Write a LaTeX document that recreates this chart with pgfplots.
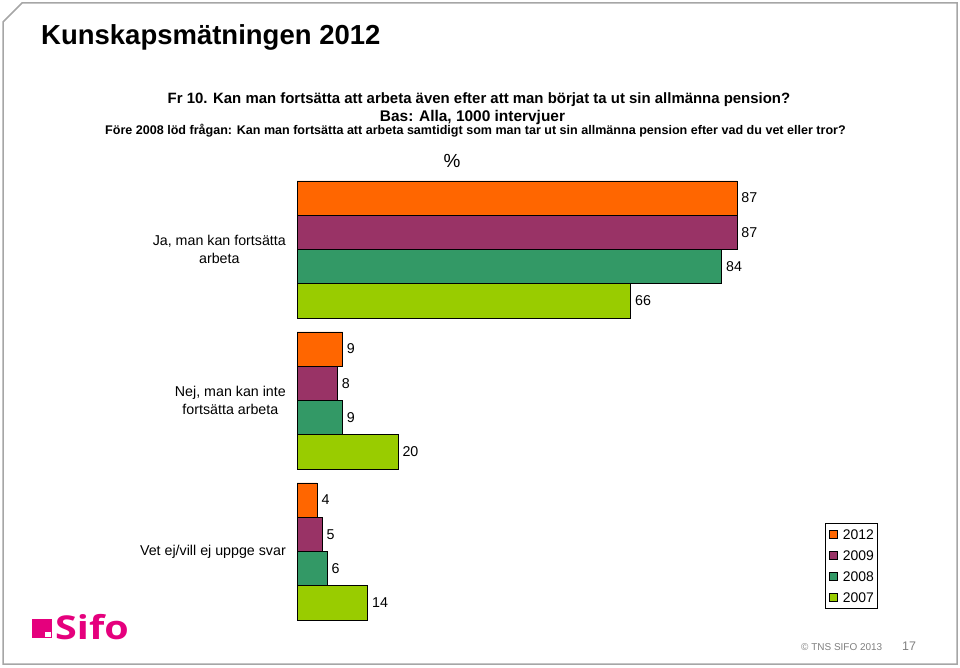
\documentclass[border=0pt]{standalone}
\usepackage{pgfplots}
\pgfplotsset{compat=1.18}
\usepackage{fontspec}
\setmainfont{Liberation Sans}
\newfontfamily\logofont{Open Sans}
\definecolor{c2012}{HTML}{FF6600}
\definecolor{c2009}{HTML}{993366}
\definecolor{c2008}{HTML}{339966}
\definecolor{c2007}{HTML}{99CC00}
\definecolor{sifo}{HTML}{E5007D}
\definecolor{framegray}{HTML}{A6A6A6}
\newcommand{\fs}[1]{\fontsize{#1}{#1}\selectfont}
\pgfplotsset{sq/.style={legend image code/.code={\draw[##1,line width=0.7bp] (0bp,-4bp) rectangle (8bp,4bp);}}}

\begin{document}
\begin{tikzpicture}[x=1bp,y=1bp]
\path[use as bounding box] (0,0) rectangle (960,-668);
\draw[framegray, line width=1.5bp] (3,-22) -- (22,-3) -- (957,-3) -- (957,-664) -- (3,-664) -- cycle;
\node[anchor=base west, inner sep=0, font=\fs{27.6}\bfseries] at (41,-45) {Kunskapsmätningen 2012};
\node[anchor=base, inner sep=0, font=\fs{15}\bfseries] at (479,-104) {Fr 10. Kan man fortsätta att arbeta även efter att man börjat ta ut sin allmänna pension?};
\node[anchor=base, inner sep=0, font=\fs{15.5}\bfseries] at (472.5,-122) {Bas: Alla, 1000 intervjuer};
\node[anchor=base, inner sep=0, font=\fs{12.6}\bfseries] at (475.5,-135) {Före 2008 löd frågan: Kan man fortsätta att arbeta samtidigt som man tar ut sin allmänna pension efter vad du vet eller tror?};
\node[anchor=base, inner sep=0, font=\fs{19}] at (452,-168) {\%};

\begin{axis}[
  at={(297bp,-174bp)}, anchor=north west,
  scale only axis, width=505.7bp, height=453bp,
  xbar, xmin=0, xmax=100, ymin=-0.5, ymax=2.5, y dir=reverse,
  bar width=0.227,
  axis line style={draw=none},
  xtick=\empty, ytick={0,1,2},
  major tick length=0pt,
  /pgf/number format/assume math mode=true,
  yticklabels={{Ja, man kan fortsätta\\arbeta},{Nej, man kan inte\\fortsätta arbeta},{Vet ej/vill ej uppge svar}},
  yticklabel style={font=\fontsize{14.3}{18}\selectfont, align=center, inner sep=0pt, xshift=-11bp},
  clip=false,
  nodes near coords,
  nodes near coords style={font=\fs{14.3}, inner sep=0pt, anchor=west, xshift=4bp, text=black},
  every axis plot/.append style={draw=black, line width=0.8bp},
  legend style={at={(1.0435,0.2296)}, anchor=north west, draw=black, line width=0.7bp,
    font=\fs{14}, inner xsep=4bp, inner ysep=6bp, row sep=11bp,
    nodes={inner sep=0bp, text height=10bp, text depth=0bp},
    /tikz/every odd column/.style={column sep=5bp}},
  legend cell align=left,
]
\addplot[fill=c2012, bar shift=-0.3405, sq] coordinates {(87,0) (9,1) (4,2)};
\addplot[fill=c2009, bar shift=-0.1135, sq] coordinates {(87,0) (8,1) (5,2)};
\addplot[fill=c2008, bar shift=0.1135, sq] coordinates {(84,0) (9,1) (6,2)};
\addplot[fill=c2007, bar shift=0.3405, sq] coordinates {(66,0) (20,1) (14,2)};
\legend{2012,2009,2008,2007}
\end{axis}

% Sifo logo
\fill[sifo] (32,-619) rectangle (52,-638);
\fill[white] (45,-632) rectangle (51,-637);
\node[anchor=base west, inner sep=0, font=\logofont\fs{33}\bfseries, text=sifo, xscale=1.2] at (55,-639) {Sifo};
% footer
\node[anchor=base west, inner sep=0, font=\fs{10}, text=gray] at (801,-650) {© TNS SIFO 2013};
\node[anchor=base west, inner sep=0, font=\fs{12.5}, text=gray] at (902,-650) {17};
\end{tikzpicture}
\end{document}
